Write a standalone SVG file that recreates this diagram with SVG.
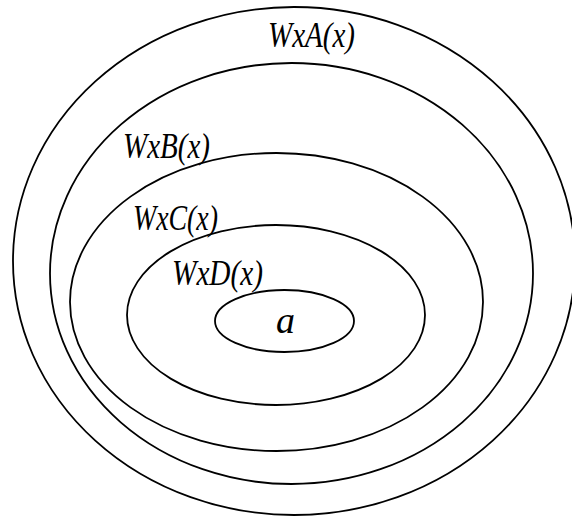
<svg xmlns="http://www.w3.org/2000/svg" width="572" height="516" viewBox="0 0 572 516">
<style>
.e{fill:none;stroke:#000;stroke-width:1.8}
.t{font-family:"Liberation Serif",serif;font-style:italic;font-size:35px;fill:#000}
</style>
<rect width="572" height="516" fill="#fff"/>
<g id="setA"><ellipse class="e" cx="294" cy="261" rx="281" ry="254"/><text class="t" x="268" y="47" textLength="87" lengthAdjust="spacingAndGlyphs">WxA(x)</text></g>
<g id="setB"><ellipse class="e" cx="291.5" cy="273.5" rx="241.5" ry="210.5"/><text class="t" x="123" y="158" textLength="87" lengthAdjust="spacingAndGlyphs">WxB(x)</text></g>
<g id="setC"><ellipse class="e" cx="276.5" cy="302" rx="206.5" ry="149"/><text class="t" x="133" y="230" textLength="85" lengthAdjust="spacingAndGlyphs">WxC(x)</text></g>
<g id="setD"><ellipse class="e" cx="276" cy="315" rx="149" ry="90"/><text class="t" x="172" y="285" textLength="91" lengthAdjust="spacingAndGlyphs">WxD(x)</text></g>
<g id="elemA"><ellipse class="e" cx="284.5" cy="321" rx="69.5" ry="31"/><text class="t" x="276" y="333" style="font-size:38px">a</text></g>
<g id="connectors"/>
</svg>
